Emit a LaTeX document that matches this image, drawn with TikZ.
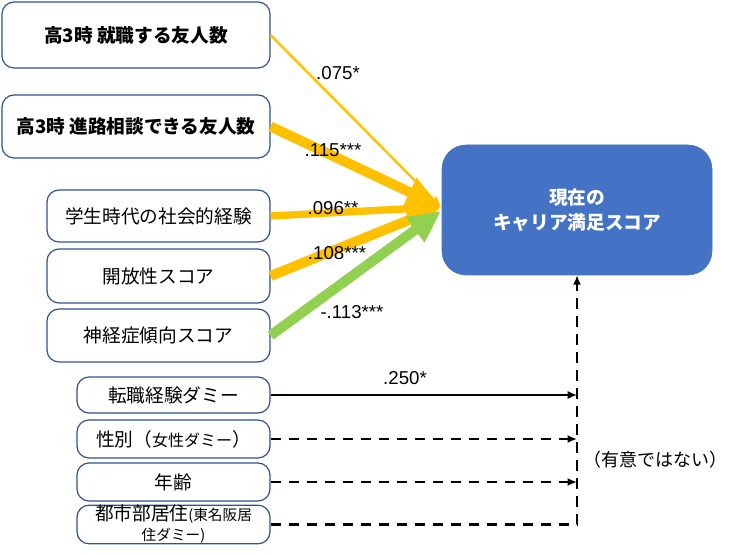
\documentclass[tikz,border=0pt]{standalone}
\usepackage{fontspec}
\setmainfont{Noto Sans CJK JP}
\newfontfamily\numfont{Liberation Sans}
\usetikzlibrary{arrows.meta}

\definecolor{boxline}{RGB}{47,82,143}
\definecolor{pathyellow}{RGB}{255,192,0}
\definecolor{pathgreen}{RGB}{146,208,80}
\definecolor{outcomeblue}{RGB}{68,114,196}

\tikzset{
  varbox/.style={draw=boxline, line width=0.9pt, rounded corners=9pt, fill=white,
    inner sep=0pt, align=center, font=\fontsize{14}{17}\selectfont},
  outcome/.style={draw=outcomeblue, fill=outcomeblue, rounded corners=18pt, text=white,
    inner sep=0pt, align=center, font=\fontsize{14}{19}\selectfont\bfseries},
  coef/.style={font=\numfont\fontsize{14}{16}\selectfont, inner sep=0.75pt},
  sig/.style={line width=1.2pt, -{Latex[length=7pt,width=6pt]}},
  nonsig/.style={line width=1.9pt, dash pattern=on 8pt off 5.5pt, -{Latex[length=7pt,width=6pt]}},
}

\begin{document}
\begin{tikzpicture}[x=0.75pt,y=0.75pt,yscale=-1,xscale=1]
            \useasboundingbox (0,0) rectangle (750,555);

            % predictors
            \draw (136,35) node [varbox, minimum width=201pt, minimum height=49.5pt] (b1) {\bfseries 高3時 就職する友人数};
            \draw (136,126.5) node [varbox, minimum width=201pt, minimum height=47.25pt] (b2) {\bfseries 高3時 進路相談できる友人数};
            \draw (158.5,216) node [varbox, minimum width=167.25pt, minimum height=39pt] (b3) {学生時代の社会的経験};
            \draw (158.5,276) node [varbox, minimum width=167.25pt, minimum height=40.5pt] (b4) {開放性スコア};
            \draw (158.5,335.5) node [varbox, minimum width=167.25pt, minimum height=39.75pt] (b5) {神経症傾向スコア};

            % controls
            \draw (173.5,395) node [varbox, minimum width=144.75pt, minimum height=27pt] (b6) {転職経験ダミー};
            \draw (173.5,439) node [varbox, minimum width=144.75pt, minimum height=28.5pt] (b7) {性別（{\fontsize{12}{14}\selectfont 女性ダミー}）};
            \draw (173.5,482) node [varbox, minimum width=144.75pt, minimum height=28.5pt] (b8) {年齢};
            \draw (173.5,524.5) node [varbox, minimum width=144.75pt, minimum height=27.75pt, font=\fontsize{14}{15}\selectfont] (b9) {都市部居住{\fontsize{11}{13}\selectfont (東名阪居}\\{\fontsize{11}{13}\selectfont 住ダミー)}};

            % outcome
            \draw (577,210) node [outcome, minimum width=202.5pt, minimum height=97.5pt] (tgt) {現在の\\キャリア満足スコア};
            \coordinate (tip) at (441,207);
            \coordinate (gtip) at (441,211);

            \draw [pathyellow, line width=1.8pt, -{Triangle[length=8pt,width=6pt]}] (b1.east) -- (tip);
            \draw [pathyellow, line width=7.5pt, -{Triangle[length=26pt,width=22pt]}] (b2.east) -- (tip);
            \draw [pathyellow, line width=5.5pt, -{Triangle[length=22pt,width=18pt]}] (b3.east) -- (tip);
            \draw [pathyellow, line width=7.5pt, -{Triangle[length=26pt,width=22pt]}] (b4.east) -- (tip);
            \draw [pathgreen, line width=7.5pt, -{Triangle[length=24pt,width=22pt]}] (b5.east) -- (gtip);

            \draw [sig] (b6.east) -- (b6.east -| tgt.south);
            \draw [nonsig] (b7.east) -- (b7.east -| tgt.south);
            \draw [nonsig] (b8.east) -- (b8.east -| tgt.south);
            \draw [nonsig] (b9.east) -- (b9.east -| tgt.south) -- (tgt.south);

            \draw (338,73) node [coef] (c1) {.075*};
            \draw (333,150) node [coef] (c2) {.115***};
            \draw (333,208) node [coef] (c3) {.096**};
            \draw (337,253) node [coef] (c4) {.108***};
            \draw (352,312) node [coef] (c5) {-.113***};
            \draw (405,378) node [coef] (c6) {.250*};
            \draw (655,460) node [inner sep=0.75pt, font=\fontsize{13.5}{16}\selectfont] (ns) {（有意ではない）};
        \end{tikzpicture}
\end{document}
